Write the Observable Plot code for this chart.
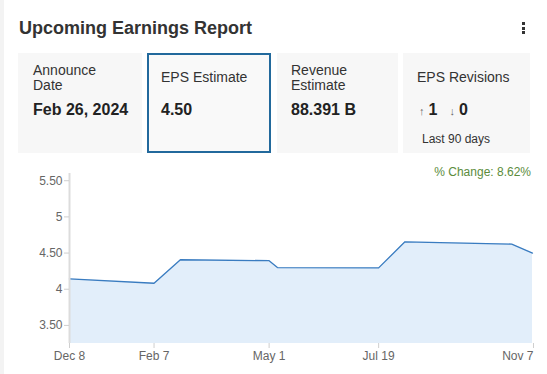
<!DOCTYPE html>
<html>
<head>
<meta charset="utf-8">
<script src="https://cdn.jsdelivr.net/npm/d3@7"></script>
<script src="https://cdn.jsdelivr.net/npm/@observablehq/plot@0.6"></script>
<style>
  html, body { margin: 0; padding: 0; background: #fff; }
  body { width: 547px; height: 374px; position: relative; overflow: hidden;
         font-family: "Liberation Sans", Arial, sans-serif; color: #333; }
  .edge { position: absolute; left: 0; top: 0; width: 4px; height: 374px; background: #f3f3f3; }
  .title { position: absolute; left: 19px; top: 18px; font-size: 18px; font-weight: bold; color: #333; }
  .dot { position: absolute; left: 522px; width: 3px; height: 3px; background: #333; }
  .card { position: absolute; top: 53px; height: 100px; background: #f7f7f7; box-sizing: border-box; }
  .card.sel { border: 2px solid #22699c; background: #f9f9f9; }
  .lab { position: absolute; left: 14px; font-size: 14px; line-height: 15px; color: #333; }
  .val { position: absolute; left: 14px; top: 48px; font-size: 16px; font-weight: bold; color: #222; }
  .small { position: absolute; left: 17px; top: 79px; font-size: 12px; color: #333; }
  .arr { font-size: 11px; font-weight: normal; color: #666; margin-right: 4px; }
  .gap { display: inline-block; width: 12px; }
  .chg { position: absolute; right: 16px; top: 165px; font-size: 12px; color: #5b8c3c; }
  #chart { position: absolute; left: 0; top: 160px; }
</style>
</head>
<body>
<div class="edge"></div>
<div class="title">Upcoming Earnings Report</div>
<div class="dot" style="top:22px"></div>
<div class="dot" style="top:27px"></div>
<div class="dot" style="top:31px"></div>
<div id="cards"></div>
<div class="chg" id="chg"></div>
<div id="chart"></div>
<script>
const dateStrings = ["2022-12-08","2023-02-07","2023-02-26","2023-05-01","2023-05-07","2023-07-19","2023-08-07","2023-10-23","2023-11-07"];
const epsValues   = [4.143, 4.083, 4.408, 4.395, 4.300, 4.295, 4.656, 4.624, 4.50];
const xTickStrings = ["2022-12-08","2023-02-07","2023-05-01","2023-07-19","2023-11-07"];
const yTicks = [3.5, 4, 4.5, 5, 5.5];
const yTickLabels = ["3.50", "4", "4.50", "5", "5.50"];
const yDomain = [3.25, 5.6];
const changeLabel = "% Change: 8.62%";

const cardLabels = [["Announce", "Date"], ["EPS Estimate"], ["Revenue", "Estimate"], ["EPS Revisions"]];
const cardValues = ["Feb 26, 2024", "4.50", "88.391 B", null];
const revisionsUp = 1, revisionsDown = 0;
const revisionsNote = "Last 90 days";

// cards
const cardLefts = [18, 147, 277, 403];
const cardWidths = [124, 124, 121, 127];
const cardsEl = document.getElementById("cards");
cardLabels.forEach((lines, i) => {
  const c = document.createElement("div");
  c.className = "card" + (i === 1 ? " sel" : "");
  c.style.left = cardLefts[i] + "px";
  c.style.width = cardWidths[i] + "px";
  const off = i === 1 ? 2 : 0;
  const lab = document.createElement("div");
  lab.className = "lab";
  lab.style.left = (i === 0 ? 15 : 14) - off + "px";
  lab.style.top = ((lines.length === 2 ? 10 : 17) - off) + "px";
  lab.innerHTML = lines.join("<br>");
  c.appendChild(lab);
  const v = document.createElement("div");
  v.className = "val";
  v.style.left = (i === 0 ? 15 : 14) - off + "px";
  v.style.top = (48 - off) + "px";
  if (cardValues[i] !== null) {
    v.textContent = cardValues[i];
  } else {
    v.style.left = "16px";
    v.innerHTML = '<span class="arr">&#8593;</span>' + revisionsUp + '<span class="gap"></span><span class="arr">&#8595;</span>' + revisionsDown;
    const s = document.createElement("div");
    s.className = "small";
    s.style.left = "19px";
    s.textContent = revisionsNote;
    c.appendChild(s);
  }
  c.appendChild(v);
  cardsEl.appendChild(c);
});
document.getElementById("chg").textContent = changeLabel;

const parse = d3.utcParse("%Y-%m-%d");
const data = dateStrings.map((d, i) => ({date: parse(d), eps: epsValues[i]}));
const xTicks = xTickStrings.map(parse);
const fmt = d3.utcFormat("%b %-d");
const axisStyle = {tickSize: 5, stroke: "#cfcfcf", fill: "#666", label: null, tickFormat: fmt};

const chart = Plot.plot({
  width: 547,
  height: 214,
  marginLeft: 69,
  marginRight: 15,
  marginTop: 13,
  marginBottom: 31,
  style: {fontFamily: "'Liberation Sans', Arial, sans-serif", fontSize: "12px", background: "transparent"},
  x: {type: "utc", domain: [xTicks[0], xTicks[xTicks.length - 1]]},
  y: {domain: yDomain},
  marks: [
    Plot.areaY(data, {x: "date", y1: yDomain[0], y2: "eps", fill: "#e2eefa"}),
    Plot.lineY(data, {x: "date", y: "eps", stroke: "#3a7cc0", strokeWidth: 1.3}),
    Plot.ruleX([xTicks[0]], {stroke: "#dcdcdc", strokeWidth: 2}),
    Plot.axisY({ticks: yTicks, tickFormat: (d) => yTickLabels[yTicks.indexOf(d)], tickSize: 5, tickPadding: 2, stroke: "#cfcfcf", fill: "#666", label: null}),
    Plot.axisX({...axisStyle, ticks: xTicks.slice(0, -1), tickPadding: 3}),
    Plot.axisX({...axisStyle, ticks: xTicks.slice(-1), tickPadding: 3, textAnchor: "end", dx: 1})
  ]
});
document.getElementById("chart").appendChild(chart);
</script>
</body>
</html>
